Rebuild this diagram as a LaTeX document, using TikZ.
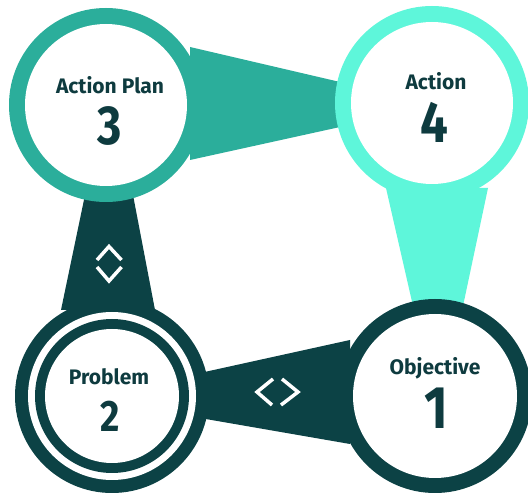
\documentclass[tikz,border=0pt]{standalone}
\usepackage{fontspec}
\newfontfamily\lblfont{Fira Sans}
\newfontfamily\numfont[FakeStretch=0.85]{Fira Sans}
\definecolor{darkteal}{HTML}{0C4245}
\definecolor{midteal}{HTML}{2BAE9B}
\definecolor{aqua}{HTML}{5EF6DA}
\definecolor{txt}{HTML}{0E3B3F}
\begin{document}
\begin{tikzpicture}[x=1pt,y=-1pt,
  ring/.style={circle, inner sep=0pt, outer sep=0pt, minimum size=194pt, fill=#1},
  hole/.style={circle, inner sep=0pt, outer sep=0pt, minimum size=#1, fill=white},
  lbltext/.style={text=txt, font=\lblfont\bfseries\fontsize{21}{21}\selectfont, inner sep=0pt, anchor=base},
  numtext/.style={text=txt, font=\numfont\bfseries\fontsize{#1}{#1}\selectfont, inner sep=0pt, anchor=base},
  band/.style={fill=#1},
  chev/.style={draw=white, line width=3.5pt, line cap=butt, line join=miter}
]
\useasboundingbox (0,0) rectangle (528,494);
\fill[white] (0,0) rectangle (528,494);

% band corners
\coordinate (b34a) at (190,47);
\coordinate (b34b) at (340,82);
\coordinate (b34c) at (340,127);
\coordinate (b34d) at (190,160);
\coordinate (b41a) at (386,188);
\coordinate (b41b) at (488,188);
\coordinate (b41c) at (463,306);
\coordinate (b41d) at (413,306);
\coordinate (b32a) at (85,195);
\coordinate (b32b) at (133,195);
\coordinate (b32c) at (155,310);
\coordinate (b32d) at (61,310);
\coordinate (b21a) at (200,373);
\coordinate (b21b) at (350,340);
\coordinate (b21c) at (350,444);
\coordinate (b21d) at (200,418);

\fill[band=midteal] (b34a) -- (b34b) -- (b34c) -- (b34d) -- cycle;
\fill[band=aqua] (b41a) -- (b41b) -- (b41c) -- (b41d) -- cycle;
\fill[band=darkteal] (b32a) -- (b32b) -- (b32c) -- (b32d) -- cycle;
\fill[band=darkteal] (b21a) -- (b21b) -- (b21c) -- (b21d) -- cycle;

% circles
\node[ring=midteal] (c3) at (106,105) {};
\node[hole=162pt] (c3in) at (c3) {};
\node[ring=aqua] (c4) at (432,103) {};
\node[hole=162pt] (c4in) at (c4) {};
\node[ring=darkteal] (c1) at (435,396) {};
\node[hole=164pt] (c1in) at (c1) {};
\node[ring=darkteal] (c2) at (112,396) {};
\node[hole=168pt] (c2w) at (c2) {};
\node[circle, inner sep=0pt, minimum size=154pt, fill=darkteal] (c2d) at (c2) {};
\node[hole=134pt] (c2in) at (c2) {};

% labels
\node[lbltext] (t3) at (110,93.5) {Action Plan};
\node[numtext=55] (n3) at (110,145) {3};
\node[lbltext] (t4) at (436,89.5) {Action};
\node[numtext=58] (n4) at (434,143) {4};
\node[lbltext] (t2) at (109,385) {Problem};
\node[numtext=44] (n2) at (110,432) {2};
\node[lbltext] (t1) at (435,375) {Objective};
\node[numtext=60] (n1) at (436,429) {1};

% chevrons
\coordinate (v1) at (97,260);
\coordinate (v2) at (109,246.5);
\coordinate (v3) at (121.5,260);
\coordinate (v4) at (97,267);
\coordinate (v5) at (109,281);
\coordinate (v6) at (121.5,267);
\draw[chev] (v1) -- (v2) -- (v3);
\draw[chev] (v4) -- (v5) -- (v6);
\coordinate (h1) at (273,379);
\coordinate (h2) at (257,392);
\coordinate (h3) at (272,405);
\coordinate (h4) at (282,379);
\coordinate (h5) at (298,392);
\coordinate (h6) at (281,405);
\draw[chev] (h1) -- (h2) -- (h3);
\draw[chev] (h4) -- (h5) -- (h6);
\end{tikzpicture}
\end{document}
